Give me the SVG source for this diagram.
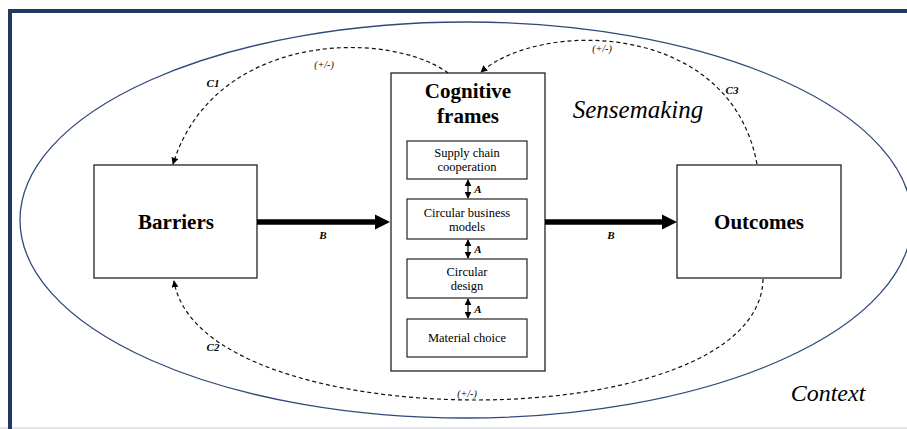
<svg xmlns="http://www.w3.org/2000/svg" width="907" height="429" viewBox="0 0 907 429">
<defs>
<style>
.box{fill:#fff;stroke:#222;stroke-width:1.3}
.ibox{fill:#fff;stroke:#222;stroke-width:1.2}
.dash{fill:none;stroke:#111;stroke-width:1.2;stroke-dasharray:4 3}
.thick{stroke:#000;stroke-width:5.5}
.thin{stroke:#000;stroke-width:1.2}
text{font-family:'Liberation Serif','Times New Roman',Times,serif;fill:#000}
.bt{font-weight:bold}
.lab{font-weight:bold;font-style:italic;font-size:11px}
.pm{font-style:italic;font-size:10px}
.it{font-style:italic}
</style>
<marker id="ah" viewBox="0 0 10 10" refX="9" refY="5" markerWidth="7" markerHeight="7" orient="auto-start-reverse" markerUnits="userSpaceOnUse">
<path d="M0,0 L10,5 L0,10 Z" fill="#000"/>
</marker>
</defs>
<rect width="907" height="429" fill="#fff"/>
<line x1="0" y1="428" x2="907" y2="428" stroke="#dcdde6" stroke-width="1.5"/>
<path d="M10,429 V11 H907" fill="none" stroke="#1f3864" stroke-width="4"/>
<g id="context">
<ellipse cx="466" cy="220" rx="446" ry="198" fill="none" stroke="#2f4a7a" stroke-width="1.3"/>
<text class="it" x="828" y="401" font-size="24" text-anchor="middle">Context</text>
</g>
<g id="sensemaking">
<text class="it" x="638" y="118" font-size="25" text-anchor="middle">Sensemaking</text>
</g>
<g id="barriers">
<rect class="box" x="94" y="165" width="163" height="113"/>
<text class="bt" x="176" y="229" font-size="21" text-anchor="middle">Barriers</text>
</g>
<g id="outcomes">
<rect class="box" x="677" y="165" width="164" height="113"/>
<text class="bt" x="759" y="229" font-size="21" text-anchor="middle">Outcomes</text>
</g>
<g id="cognitive-frames">
<rect class="box" x="391" y="73" width="154" height="298"/>
<text class="bt" x="468" y="98" font-size="21" text-anchor="middle">Cognitive</text>
<text class="bt" x="468" y="123" font-size="21" text-anchor="middle">frames</text>
</g>
<g id="supply-chain">
<rect class="ibox" x="407" y="141" width="120" height="38"/>
<text x="467" y="157" font-size="12.5" text-anchor="middle">Supply chain</text>
<text x="467" y="171" font-size="12.5" text-anchor="middle">cooperation</text>
</g>
<g id="business-models">
<rect class="ibox" x="407" y="199" width="120" height="40"/>
<text x="467" y="217" font-size="12.5" text-anchor="middle">Circular business</text>
<text x="467" y="231" font-size="12.5" text-anchor="middle">models</text>
</g>
<g id="circular-design">
<rect class="ibox" x="407" y="259" width="120" height="39"/>
<text x="467" y="276" font-size="12.5" text-anchor="middle">Circular</text>
<text x="467" y="290" font-size="12.5" text-anchor="middle">design</text>
</g>
<g id="material-choice">
<rect class="ibox" x="407" y="319" width="120" height="38"/>
<text x="467" y="342" font-size="12.5" text-anchor="middle">Material choice</text>
</g>
<g id="connectors">
<path class="dash" d="M448,73 C390,30 215,30 173,164" marker-end="url(#ah)"/>
<path class="dash" d="M757,164 C730,20 540,20 481,72" marker-end="url(#ah)"/>
<path class="dash" d="M763,279 C760,440 200,440 174,281" marker-end="url(#ah)"/>
<line class="thick" x1="257" y1="222" x2="377" y2="222"/>
<polygon points="375,214.5 390,222 375,229.5" fill="#000"/>
<line class="thick" x1="545" y1="222" x2="663" y2="222"/>
<polygon points="662,214.5 677,222 662,229.5" fill="#000"/>
<line class="thin" x1="468" y1="180" x2="468" y2="198" marker-start="url(#ah)" marker-end="url(#ah)"/>
<line class="thin" x1="468" y1="240" x2="468" y2="258" marker-start="url(#ah)" marker-end="url(#ah)"/>
<line class="thin" x1="468" y1="299" x2="468" y2="318" marker-start="url(#ah)" marker-end="url(#ah)"/>
<text class="lab" x="213" y="87" text-anchor="middle">C1</text>
<text class="pm" x="324" y="68" text-anchor="middle">(+/-)</text>
<text class="lab" x="732" y="94" text-anchor="middle">C3</text>
<text class="pm" x="602" y="52" text-anchor="middle">(+/-)</text>
<text class="lab" x="213" y="351" text-anchor="middle">C2</text>
<text class="pm" x="467" y="397" text-anchor="middle">(+/-)</text>
<text class="lab" x="323" y="239" text-anchor="middle">B</text>
<text class="lab" x="611" y="239" text-anchor="middle">B</text>
<text class="lab" x="478" y="193" text-anchor="middle">A</text>
<text class="lab" x="478" y="253" text-anchor="middle">A</text>
<text class="lab" x="478" y="313" text-anchor="middle">A</text>
</g>
</svg>
